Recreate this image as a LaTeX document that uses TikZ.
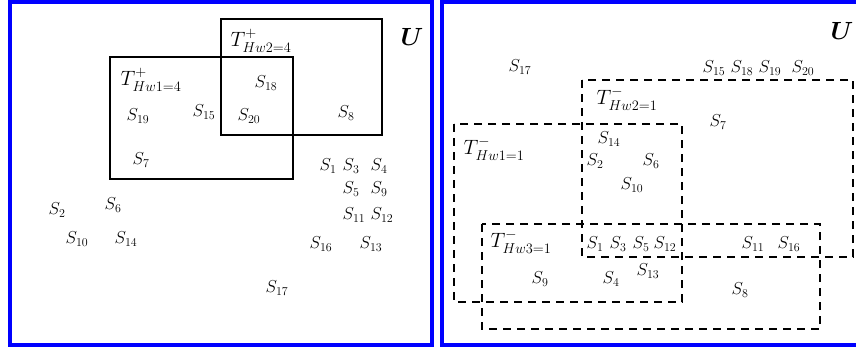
\documentclass[tikz,border=0pt]{standalone}
\usepackage{amsmath}
\usepackage{amssymb}
\usepackage{tikz}
\usetikzlibrary{positioning}
\definecolor{frameblue}{RGB}{0,0,255}
\tikzset{
  frame/.style  ={draw=frameblue, line width=4pt},
  posbox/.style ={draw=black, line width=1.8pt},
  % negative sets: dashed border
  negbox/.style ={draw=black, line width=1.8pt, dash pattern=on 8pt off 6pt},
  elem/.style   ={inner sep=0pt, font=\fontsize{16.5}{19}\selectfont},
  setlbl/.style ={inner sep=0pt, font=\fontsize{22.5}{26}\selectfont},
  univ/.style   ={inner sep=0pt, font=\fontsize{25}{29}\selectfont},
}

\begin{document}
\begin{tikzpicture}[x=1pt, y=-1pt]
    \useasboundingbox (0,0) rectangle (856,349);
    \clip (0,0) rectangle (856,349);
    % frames
    \draw[frame] (10,1.5) rectangle (431.5,345);
    \draw[frame] (441.5,1.5) rectangle (862,345);
    % left panel: positive sets
    \draw[posbox] (110,57) rectangle (293,179);
    \draw[posbox] (221,19) rectangle (382,135);
    \node[setlbl] (TpA) at (151,80) {$T^{+}_{Hw1=4}$};
    \node[setlbl] (TpB) at (261,41) {$T^{+}_{Hw2=4}$};
    \node[univ]   (Ua)  at (412,37) {$\boldsymbol{U}$};
    \node[elem] (a18) at (266,83)  {$S_{18}$};
    \node[elem] (a19) at (138,116) {$S_{19}$};
    \node[elem] (a15) at (204,112) {$S_{15}$};
    \node[elem] (a20) at (249,116) {$S_{20}$};
    \node[elem] (a8)  at (346,113) {$S_{8}$};
    \node[elem] (a7)  at (141,160) {$S_{7}$};
    \node[elem] (a1)  at (328,166) {$S_{1}$};
    \node[elem] (a3)  at (351,166) {$S_{3}$};
    \node[elem] (a4)  at (379,166) {$S_{4}$};
    \node[elem] (a5)  at (351,189) {$S_{5}$};
    \node[elem] (a9)  at (379,189) {$S_{9}$};
    \node[elem] (a2)  at (57,210)  {$S_{2}$};
    \node[elem] (a6)  at (113,205) {$S_{6}$};
    \node[elem] (a11) at (354,215) {$S_{11}$};
    \node[elem] (a12) at (382,215) {$S_{12}$};
    \node[elem] (a10) at (77,239)  {$S_{10}$};
    \node[elem] (a14) at (126,239) {$S_{14}$};
    \node[elem] (a16) at (321,244) {$S_{16}$};
    \node[elem] (a13) at (371,244) {$S_{13}$};
    \node[elem] (a17) at (277,288) {$S_{17}$};
    % right panel: negative sets
    \draw[negbox] (582,80) rectangle (853,257);
    \draw[negbox] (454,124) rectangle (682,302);
    \draw[negbox] (482,224) rectangle (820,329);
    \node[setlbl] (TnB) at (627,99)  {$T^{-}_{Hw2=1}$};
    \node[setlbl] (TnA) at (494,149) {$T^{-}_{Hw1=1}$};
    \node[setlbl] (TnC) at (521,242) {$T^{-}_{Hw3=1}$};
    \node[univ]   (Ub)  at (842,31)  {$\boldsymbol{U}$};
    \node[elem] (b17) at (520,67)  {$S_{17}$};
    \node[elem] (b15) at (714,68)  {$S_{15}$};
    \node[elem] (b18) at (742,68)  {$S_{18}$};
    \node[elem] (b19) at (770,68)  {$S_{19}$};
    \node[elem] (b20) at (803,68)  {$S_{20}$};
    \node[elem] (b7)  at (718,122) {$S_{7}$};
    \node[elem] (b14) at (609,139) {$S_{14}$};
    \node[elem] (b2)  at (595,161) {$S_{2}$};
    \node[elem] (b6)  at (651,161) {$S_{6}$};
    \node[elem] (b10) at (632,185) {$S_{10}$};
    \node[elem] (b1)  at (595,244) {$S_{1}$};
    \node[elem] (b3)  at (618,244) {$S_{3}$};
    \node[elem] (b5)  at (641,244) {$S_{5}$};
    \node[elem] (b12) at (665,244) {$S_{12}$};
    \node[elem] (b11) at (753,244) {$S_{11}$};
    \node[elem] (b16) at (789,244) {$S_{16}$};
    \node[elem] (b9)  at (540,279) {$S_{9}$};
    \node[elem] (b4)  at (611,279) {$S_{4}$};
    \node[elem] (b13) at (648,271) {$S_{13}$};
    \node[elem] (b8)  at (740,290) {$S_{8}$};
  \end{tikzpicture}
\end{document}
